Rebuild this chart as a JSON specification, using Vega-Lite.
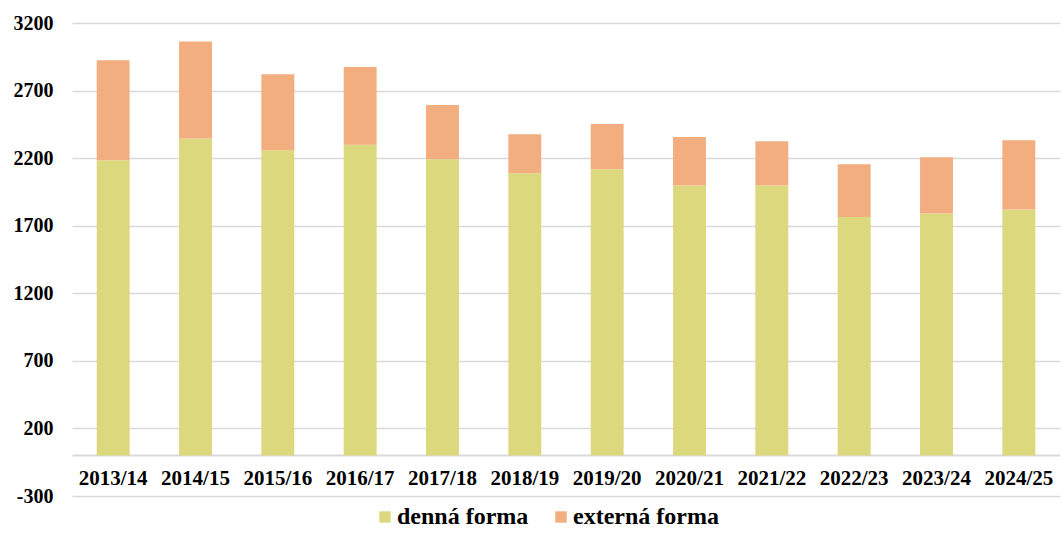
{
  "$schema": "https://vega.github.io/schema/vega-lite/v6.json",
  "width": 988,
  "height": 473,
  "autosize": {"type": "none"},
  "padding": {"left": 72, "top": 23, "right": 2, "bottom": 56},
  "background": "#ffffff",
  "config": {
    "view": {"stroke": null},
    "font": "Liberation Serif"
  },
  "data": {
    "values": [
      {"rok": "2013/14", "forma": "denná forma", "pocet": 2184},
      {"rok": "2013/14", "forma": "externá forma", "pocet": 740},
      {"rok": "2014/15", "forma": "denná forma", "pocet": 2345},
      {"rok": "2014/15", "forma": "externá forma", "pocet": 719},
      {"rok": "2015/16", "forma": "denná forma", "pocet": 2258},
      {"rok": "2015/16", "forma": "externá forma", "pocet": 562},
      {"rok": "2016/17", "forma": "denná forma", "pocet": 2300},
      {"rok": "2016/17", "forma": "externá forma", "pocet": 574},
      {"rok": "2017/18", "forma": "denná forma", "pocet": 2192},
      {"rok": "2017/18", "forma": "externá forma", "pocet": 401},
      {"rok": "2018/19", "forma": "denná forma", "pocet": 2088},
      {"rok": "2018/19", "forma": "externá forma", "pocet": 288},
      {"rok": "2019/20", "forma": "denná forma", "pocet": 2117},
      {"rok": "2019/20", "forma": "externá forma", "pocet": 336},
      {"rok": "2020/21", "forma": "denná forma", "pocet": 1998},
      {"rok": "2020/21", "forma": "externá forma", "pocet": 358},
      {"rok": "2021/22", "forma": "denná forma", "pocet": 1997},
      {"rok": "2021/22", "forma": "externá forma", "pocet": 328},
      {"rok": "2022/23", "forma": "denná forma", "pocet": 1765},
      {"rok": "2022/23", "forma": "externá forma", "pocet": 390},
      {"rok": "2023/24", "forma": "denná forma", "pocet": 1790},
      {"rok": "2023/24", "forma": "externá forma", "pocet": 416},
      {"rok": "2024/25", "forma": "denná forma", "pocet": 1820},
      {"rok": "2024/25", "forma": "externá forma", "pocet": 512}
    ]
  },
  "mark": {"type": "bar"},
  "encoding": {
    "x": {
      "field": "rok",
      "type": "nominal",
      "sort": null,
      "scale": {"paddingInner": 0.6, "paddingOuter": 0.3},
      "axis": {
        "title": null,
        "labelAngle": 0,
        "labelFont": "Liberation Serif",
        "labelFontSize": 21,
        "labelFontWeight": "bold",
        "labelColor": "#000000",
        "labelPadding": 12,
        "ticks": false,
        "domain": true,
        "domainColor": "#d9d9d9",
        "domainWidth": 2,
        "offset": -41,
        "grid": false
      }
    },
    "y": {
      "field": "pocet",
      "type": "quantitative",
      "stack": "zero",
      "scale": {"domain": [-300, 3200], "nice": false, "zero": false},
      "axis": {
        "title": null,
        "values": [-300, 200, 700, 1200, 1700, 2200, 2700, 3200],
        "labelExpr": "'' + datum.value",
        "labelFont": "Liberation Serif",
        "labelFontSize": 20,
        "labelFontWeight": "bold",
        "labelColor": "#000000",
        "labelPadding": 19,
        "ticks": false,
        "domain": false,
        "grid": true,
        "gridColor": "#d9d9d9",
        "gridWidth": 1.5
      }
    },
    "color": {
      "field": "forma",
      "type": "nominal",
      "scale": {"domain": ["denná forma", "externá forma"], "range": ["#dcd87e", "#f3ae80"]},
      "legend": {
        "title": null,
        "orient": "none",
        "direction": "horizontal",
        "legendX": 301,
        "legendY": 482,
        "symbolType": "square",
        "symbolSize": 130,
        "symbolStrokeWidth": 0,
        "symbolOpacity": 1,
        "labelFont": "Liberation Serif",
        "labelFontSize": 24,
        "labelFontWeight": "bold",
        "labelColor": "#000000",
        "labelOffset": 0,
        "columnPadding": 20,
        "labelLimit": 300
      }
    },
    "order": {"field": "forma", "sort": "ascending"}
  }
}
